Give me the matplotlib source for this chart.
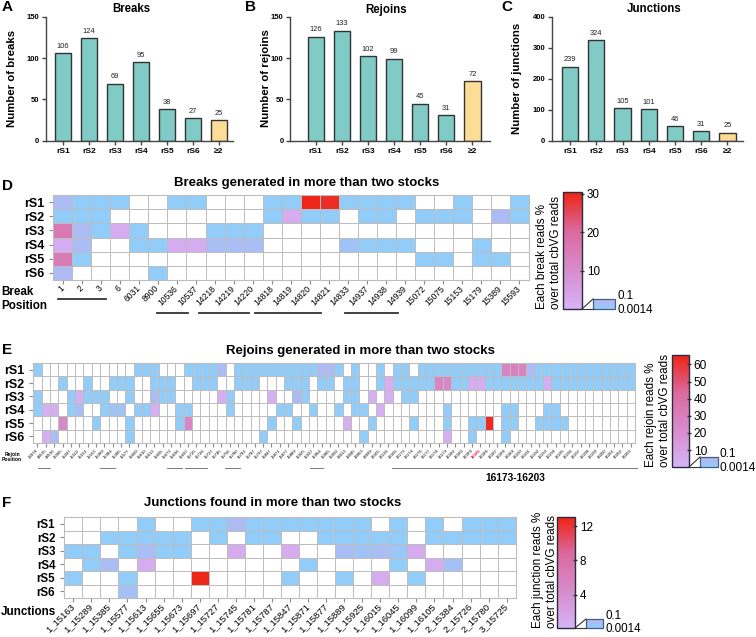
import matplotlib
matplotlib.use("Agg")
import matplotlib.pyplot as plt
import numpy as np
from matplotlib.colors import LinearSegmentedColormap, ListedColormap, Normalize
from matplotlib.cm import ScalarMappable
from matplotlib.lines import Line2D

plt.rcParams['font.family'] = ['Liberation Sans', 'DejaVu Sans']

W, H = 756, 637

# ---------------- data ----------------
stocks = ["rS1", "rS2", "rS3", "rS4", "rS5", "rS6", "\u22652"]
breaks = [106, 124, 69, 95, 38, 27, 25]
rejoins = [126, 133, 102, 99, 45, 31, 72]
junctions = [239, 324, 105, 101, 46, 31, 25]

rows = ["rS1", "rS2", "rS3", "rS4", "rS5", "rS6"]

break_pos = ["1", "2", "3", "6", "6031", "8900", "10536", "10537", "14218", "14219",
             "14220", "14818", "14819", "14820", "14821", "14833", "14937", "14938",
             "14939", "15072", "15075", "15153", "15179", "15389", "15593"]

# % of reads, 0 = not found
break_reads = [
    [.07, .01, .01, .01, 0, 0, .01, .01, 0, 0, 0, .01, .01, 30, 29, .01, .01, .01, .01, 0, 0, .01, 0, 0, .01],
    [.01, .01, .01, 0, 0, 0, 0, 0, 0, 0, 0, .01, 2, .01, .01, 0, .01, .01, 0, .01, .01, .01, 0, .07, .01],
    [16, .07, .01, 2, .01, 0, 0, 0, .01, .01, .01, 0, 0, 0, 0, 0, 0, 0, 0, 0, 0, 0, 0, 0, 0],
    [2, .06, 0, 0, .01, .01, 2, 2, .06, .06, .06, 0, 0, 0, 0, .04, .01, .01, .01, 0, 0, 0, .01, 0, 0],
    [15, .01, 0, 0, 0, 0, 0, 0, 0, 0, 0, 0, 0, 0, 0, 0, 0, 0, 0, .01, .01, 0, .01, .01, 0],
    [.07, 0, 0, 0, 0, .01, 0, 0, 0, 0, 0, 0, 0, 0, 0, 0, 0, 0, 0, 0, 0, 0, 0, 0, 0],
]

rejoin_pos = ["13978", "14515", "14516", "15065", "15097", "15112", "15151", "15153", "15289",
              "15384", "15385", "15577", "15609", "15610", "15613", "15655", "15673", "15696",
              "15697", "15725", "15726", "15727", "15745", "15756", "15780", "15781", "15787",
              "15797", "15847", "15871", "15877", "15889", "15925", "15937", "15964", "15965",
              "15992", "16013", "16045", "16063", "16099", "16105", "16136", "16165", "16173",
              "16174", "16176", "16177", "16178", "16179", "16182", "16183", "16184", "16185",
              "16186", "16187", "16188", "16189", "16190", "16191", "16192", "16193", "16194",
              "16195", "16196", "16197", "16198", "16199", "16200", "16201", "16202", "16203"]

rejoin_reads = [
    [.01, 0, 0, 0, 0, 0, 0, 0, 0, 0,
     0, 0, .01, .01, .01, 0, 0, 0, .01, .01,
     .01, .01, .07, 0, .01, .01, .01, .01, .01, .01,
     .01, .01, .01, .01, .07, .07, .01, 0, .01, 0,
     0, .01, 0, .01, .01, 0, .01, .01, .01, .01,
     .01, .01, .01, .01, .01, .01, 27, 29, 28, .07,
     .01, .01, .01, .01, .01, .01, .01, .01, .01, .01,
     .01, .01],
    [0, 0, 0, .01, 0, 0, .01, 0, 0, .01,
     .01, .01, 0, 0, .01, .01, .01, 0, 0, .01,
     .01, .01, 0, 0, .01, .01, .01, 0, 0, 0,
     .01, .01, .01, 0, .01, .01, 0, .01, .01, 0,
     0, .01, 3, .01, .01, .01, .01, .01, 25, 24,
     .01, .01, 4, 4, .01, .01, .01, .01, .01, .01,
     .01, 3, .01, .01, .01, .01, .01, .01, .01, .01,
     .01, .01],
    [.01, 0, 0, 0, .01, 3, .01, .01, .01, 0,
     0, .01, 0, 0, .07, .01, .01, 0, 0, 0,
     0, 0, 3, .01, 0, 0, 0, 0, 3, 0,
     0, .07, .01, 0, 0, 0, 0, .01, .01, 0,
     3, 0, 3, 0, .01, .01, 0, 0, 0, 0,
     0, 0, 0, 0, 0, 0, 0, 0, 0, 0,
     0, 0, 0, 0, 0, 0, 0, 0, 0, 0,
     0, 0],
    [.01, 3, 3, 0, .01, .06, 0, 0, .01, .04,
     .04, 0, .01, .01, 3, 0, 0, .01, .01, 0,
     0, 0, 0, .01, 0, 0, 0, 0, 0, .01,
     .01, 0, 0, .01, 0, 0, .01, 0, .01, .01,
     0, 3, 0, 0, 0, 0, 0, 0, 0, .01,
     0, 0, 0, 0, 0, 0, .01, .01, 0, 0,
     0, .01, .01, 0, 0, 0, 0, 0, 0, 0,
     0, 0],
    [0, 0, 0, 24, 0, 0, 0, .01, 0, 0,
     0, .01, 0, 0, 0, 0, 0, .01, 25, 0,
     0, 0, 0, 0, 0, 0, 0, 0, .01, 0,
     0, .01, 0, 0, 0, 0, 0, 3, 0, 0,
     .01, 0, 0, 0, 0, .01, 0, 0, 0, .01,
     0, 0, .01, .01, 63, 0, .01, .01, 0, 0,
     .01, .01, .01, .01, 0, 0, 0, 0, 0, 0,
     0, 0],
    [0, 3, .07, 0, 0, 0, 0, 0, 0, 0,
     0, .01, 0, 0, 0, 0, 0, 0, 0, 0,
     0, 0, 0, 0, 0, 0, 0, .01, 0, 0,
     0, 0, 0, 0, 0, 0, 0, 0, 0, .01,
     0, 0, 0, 0, 0, 0, 0, 0, 0, 3,
     0, 0, .01, 0, 0, 0, .01, 0, 0, 0,
     0, 0, 0, 0, 0, 0, 0, 0, 0, 0,
     0, 0],
]

junction_ids = ["1_15163", "1_15289", "1_15385", "1_15577", "1_15613", "1_15655", "1_15673",
                "1_15697", "1_15727", "1_15745", "1_15781", "1_15787", "1_15847", "1_15871",
                "1_15877", "1_15889", "1_15925", "1_16015", "1_16045", "1_16099", "1_16105",
                "2_15384", "2_15726", "2_15780", "3_15725"]

junction_reads = [
    [0, 0, 0, 0, .01, 0, 0, .01, .01, .07, .01, .01, .01, .01, .01, .01, .01, 0, .01, 0, .01, 0, .01, .01, .01],
    [0, 0, .01, .01, .01, .01, .01, 0, .01, 0, .01, .01, 0, 0, .01, .01, .01, .01, .01, 0, .01, .01, .01, .01, .01],
    [.01, .01, 0, .01, .06, .01, .01, 0, 0, 1, 0, 0, 1, 0, 0, .06, .04, .06, .03, 1, 0, 0, 0, 0, 0],
    [0, .01, .06, 0, 1, 0, 0, 0, 0, 0, 0, 0, 0, .01, 0, 0, 0, 0, .01, 0, 1, .05, 0, 0, 0],
    [.01, 0, 0, .01, 0, 0, 0, 12.8, 0, 0, 0, 0, .01, 0, 0, .01, 0, 1, 0, .01, 0, 0, 0, 0, 0],
    [0, 0, 0, .05, 0, 0, 0, 0, 0, 0, 0, 0, 0, 0, 0, 0, 0, 0, 0, 0, 0, 0, 0, 0, 0],
]

# ---------------- style ----------------
teal = "#80CBC6"
yellow = "#FDDC96"
grid_c = "#BDBDBD"
cmap_high = LinearSegmentedColormap.from_list("hi", ["#D6B4F8", "#D78CCB", "#DA6A9F", "#EE2312"])
cmap_low = LinearSegmentedColormap.from_list("lo", ["#8ECEFA", "#BBB3F2"])

fig = plt.figure(figsize=(W / 100, H / 100), dpi=100)


def ax_px(x0, y0, x1, y1):
    return fig.add_axes([x0 / W, 1 - y1 / H, (x1 - x0) / W, (y1 - y0) / H])


def ftext(x, y, s, **kw):
    fig.text(x / W, 1 - y / H, s, **kw)


def fline(x0, y0, x1, y1, **kw):
    fig.add_artist(Line2D([x0 / W, x1 / W], [1 - y0 / H, 1 - y1 / H], transform=fig.transFigure, **kw))


def bar_panel(box, vals, ymax, step, xl, xr):
    ax = ax_px(*box)
    colors = [teal] * 6 + [yellow]
    x = np.arange(len(vals))
    ax.bar(x, vals, width=0.62, color=colors, edgecolor="#333333", linewidth=1)
    for i, v in enumerate(vals):
        ax.annotate(str(v), (i, v), xytext=(0, 2.5), textcoords="offset points",
                    ha="center", va="bottom", fontsize=5.4, color="#222222")
    ax.set_xlim(xl, xr)
    ax.set_ylim(0, ymax)
    ax.set_yticks(np.arange(0, ymax + 1, step))
    ax.set_xticks(x, stocks)
    for s in ["top", "right"]:
        ax.spines[s].set_visible(False)
    for s in ["left", "bottom"]:
        ax.spines[s].set_color("#444444")
        ax.spines[s].set_linewidth(1)
    ax.tick_params(length=3, width=1, color="#444444", pad=2, labelsize=6)
    ax.tick_params(axis="y", labelsize=5.5, pad=1.5)
    for lab in ax.get_xticklabels() + ax.get_yticklabels():
        lab.set_fontweight("bold")
    return ax


bar_panel((45.7, 16.7, 233, 140.7), breaks, 150, 50, -0.665, 6.54)
bar_panel((290, 16.7, 490, 140.7), rejoins, 150, 50, -0.98, 6.67)
bar_panel((551.7, 16.7, 742.7, 140.7), junctions, 400, 100, -0.70, 6.58)

ftext(131, 9.5, "Breaks", ha="center", va="center", fontsize=8.3, fontweight="bold")
ftext(386, 9.5, "Rejoins", ha="center", va="center", fontsize=8.3, fontweight="bold")
ftext(654, 9.5, "Junctions", ha="center", va="center", fontsize=8.3, fontweight="bold")
ftext(12, 78.5, "Number of breaks", rotation=90, ha="center", va="center", fontsize=8.2, fontweight="bold")
ftext(266, 78.5, "Number of rejoins", rotation=90, ha="center", va="center", fontsize=8.2, fontweight="bold")
ftext(517, 78.5, "Number of junctions", rotation=90, ha="center", va="center", fontsize=8.2, fontweight="bold")

for letter, x, y in [("A", 2, 7), ("B", 245, 7), ("C", 501, 7), ("D", 2, 186), ("E", 2, 350), ("F", 2, 503)]:
    ftext(x, y, letter, ha="left", va="center", fontsize=11, fontweight="bold")


def heatmap(box, data, labels, vmax, xfs, rfs):
    ax = ax_px(*box)
    arr = np.array(data, dtype=float)
    nr, nc = arr.shape
    ax.pcolormesh(np.zeros_like(arr), cmap=ListedColormap(["white"]), edgecolors=grid_c, linewidth=0.7)
    low = np.ma.masked_where(~((arr > 0) & (arr < 0.1)), arr)
    high = np.ma.masked_where(arr < 0.1, arr)
    ax.pcolormesh(low, cmap=cmap_low, norm=Normalize(0.0014, 0.1), edgecolors=grid_c, linewidth=0.7)
    ax.pcolormesh(high, cmap=cmap_high, norm=Normalize(0.1, vmax), edgecolors=grid_c, linewidth=0.7)
    ax.set_xlim(0, nc)
    ax.set_ylim(nr, 0)
    ax.set_yticks(np.arange(nr) + 0.5, rows, fontsize=rfs, fontweight="bold")
    ax.set_xticks(np.arange(nc) + 0.5, labels, rotation=45, ha="right", va="center",
                  rotation_mode="anchor", fontsize=xfs)
    ax.tick_params(axis="both", length=3, width=0.8, color="#8A8A8A")
    ax.tick_params(axis="x", pad=2)
    for s in ax.spines.values():
        s.set_color(grid_c)
        s.set_linewidth(0.8)
    return ax


def colorbar(x0, y0, x1, y1, vmax, ticks, bx0, by0, bx1, label, lx, lfs=8.4):
    cax = ax_px(x0, y0, x1, y1)
    cb = fig.colorbar(ScalarMappable(norm=Normalize(0.1, vmax), cmap=cmap_high), cax=cax)
    cb.set_ticks(ticks)
    cb.ax.tick_params(labelsize=lfs, length=3, width=1, direction="inout", color="#333333", pad=2)
    cb.outline.set_edgecolor("#2A2A40")
    cb.outline.set_linewidth(1)
    sax = ax_px(bx0, by0, bx1, y1)
    cb2 = fig.colorbar(ScalarMappable(norm=Normalize(0.0014, 0.1), cmap=cmap_low), cax=sax)
    cb2.set_ticks([])
    cb2.outline.set_edgecolor("#4A5A80")
    cb2.outline.set_linewidth(0.9)
    fline(x1, y1, bx0, by0, color="#333333", lw=0.8)
    fline(x1, y1, bx0, y1, color="#333333", lw=0.8)
    ftext(bx1 + 2, by0 - 3, "0.1", ha="left", va="center", fontsize=lfs)
    ftext(bx1 + 2, y1 + 1, "0.0014", ha="left", va="center", fontsize=lfs)
    ftext(lx, y1, label, rotation=90, ha="center", va="bottom", multialignment="left", fontsize=8.4)


# ---- D
heatmap((53.3, 195, 529, 280), break_reads, break_pos, 30.5, 6.2, 9)
ftext(307, 183, "Breaks generated in more than two stocks", ha="center", va="center",
      fontsize=9.5, fontweight="bold")
ftext(1, 299, "Break\nPosition", ha="left", va="center", fontsize=8.4, fontweight="bold", linespacing=1.15)
fline(58, 299, 106, 299, color="#333333", lw=1.3)
for a, b in [(157, 188), (199, 249), (255, 321), (345, 398)]:
    fline(a, 312.7, b, 312.7, color="#333333", lw=1.3)
colorbar(563, 192, 582, 309, 30.5, [10, 20, 30], 593, 299, 615,
         "Each break reads %\nover total cbVG reads", 549)

# ---- E
axe = heatmap((33.3, 363, 635, 443), rejoin_reads, rejoin_pos, 65.5, 3.1, 9)
for lab in axe.get_xticklabels():
    if lab.get_text() == "16185":
        lab.set_color("#E8174A")
        lab.set_fontweight("bold")
ftext(360, 351, "Rejoins generated in more than two stocks", ha="center", va="center",
      fontsize=9.5, fontweight="bold")
ftext(12, 457, "Rejoin\nPosition", ha="center", va="center", fontsize=3.6, fontweight="bold")
for a, b in [(38, 50), (100, 115), (167, 182), (185, 207), (225, 240), (310, 323), (392, 637)]:
    fline(a, 468, b, 468, color="#666666", lw=0.6)
ftext(515, 478, "16173-16203", ha="center", va="center", fontsize=7.3, fontweight="bold")
colorbar(672, 355, 689, 467, 65.5, [10, 20, 30, 40, 50, 60], 700, 457, 718,
         "Each rejoin reads %\nover total cbVG reads", 658, lfs=8.6)

# ---- F
heatmap((64.3, 517, 515.7, 598), junction_reads, junction_ids, 13.06, 6.8, 8.3)
ftext(273, 503, "Junctions found in more than two stocks", ha="center", va="center",
      fontsize=9.5, fontweight="bold")
ftext(1, 612, "Junctions", ha="left", va="center", fontsize=8.4, fontweight="bold")
colorbar(557, 517, 575, 628, 13.06, [4, 8, 12], 586, 619, 603,
         "Each junction reads %\nover total cbVG reads", 545)

fig.savefig("out.png", dpi=100)
